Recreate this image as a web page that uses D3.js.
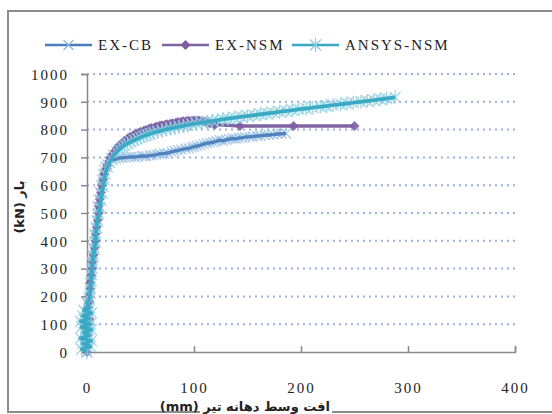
<!DOCTYPE html>
<html><head><meta charset="utf-8">
<script src="https://cdn.jsdelivr.net/npm/d3@7/dist/d3.min.js"></script>
<style>body{margin:0;background:#fff}svg{display:block}.sf{font-family:"Liberation Serif","Times New Roman",serif}</style>
</head><body>
<svg id="c" width="552" height="414"></svg>
<script>
const seriesNames = ["EX-CB", "EX-NSM", "ANSYS-NSM"];
const xTicks = [0, 100, 200, 300, 400];
const yTicks = [0,100,200,300,400,500,600,700,800,900,1000];
const exCB = [[0,0],[-2,25],[1,50],[-1,75],[2,100],[0,125],[2,150],[1,175],[2,200],[3,225],[3,250],[4,275],[4,300],[5,325],[5,350],[6,375],[7,400],[7,425],[8,450],[9,475],[10,500],[10,525],[11,550],[12,575],[13,600],[14,620],[15,640],[16,655],[17,665],[19,675],[21,683],[24,690],[27,694],[30,698],[33,699],[36,700],[39,701],[42,702],[45,701],[48,703],[52,705],[55,704],[59,707],[62,708],[65,710],[68,713],[72,714],[75,716],[79,720],[82,723],[85,725],[88,728],[92,731],[95,733],[98,736],[100,739],[103,741],[106,744],[109,748],[112,751],[115,753],[118,755],[121,758],[124,762],[127,760],[130,763],[133,766],[136,768],[139,767],[142,770],[145,771],[148,773],[152,774],[155,775],[159,777],[162,778],[166,780],[170,781],[174,782],[178,784],[182,785],[186,786]];
const exNSM = [[0,0],[1,20],[-1,40],[1,60],[-1,80],[1,100],[2,120],[0,140],[1,160],[2,180],[2,200],[3,225],[3,250],[4,275],[5,300],[5,325],[6,350],[7,375],[8,400],[8,425],[9,450],[10,475],[11,500],[11,525],[12,550],[13,575],[14,600],[15,620],[16,640],[18,658],[19,672],[21,688],[22,700],[24,712],[26,722],[28,733],[30,742],[33,752],[35,760],[38,768],[40,773],[43,779],[45,784],[48,788],[50,792],[53,796],[55,799],[58,803],[60,806],[63,808],[65,811],[68,814],[70,816],[73,817],[75,819],[78,821],[80,823],[83,825],[85,827],[88,828],[90,830],[93,831],[95,832],[98,832],[100,833],[103,833],[105,832],[108,830],[110,828],[113,825],[115,823],[118,820],[120,818],[143,813],[193,813],[250,813]];
const ansys = [[0,0],[-5,10],[3,20],[-4,30],[4,40],[-6,50],[2,60],[-3,70],[4,80],[-5,90],[3,100],[-6,110],[2,120],[-4,130],[4,140],[-3,150],[2,160],[0,175],[2,190],[3,210],[3,230],[4,255],[4,280],[5,300],[5,320],[6,345],[7,370],[8,395],[8,420],[9,445],[10,470],[11,495],[12,520],[13,545],[14,570],[15,595],[16,620],[17,640],[19,665],[21,682],[23,695],[25,708],[28,720],[30,728],[33,738],[35,744],[38,750],[41,756],[44,762],[47,767],[50,772],[53,777],[56,781],[59,785],[62,789],[66,793],[70,797],[74,801],[78,804],[82,807],[86,810],[90,813],[94,816],[98,819],[102,822],[107,825],[112,828],[117,831],[122,834],[127,837],[132,840],[138,843],[144,846],[150,849],[156,852],[162,855],[168,858],[174,861],[180,864],[186,867],[192,870],[198,873],[205,876],[211,879],[218,882],[224,885],[230,888],[237,891],[243,894],[249,897],[256,900],[262,903],[268,906],[274,909],[280,912],[288,916]];

const svg = d3.select("#c");
const x = d3.scaleLinear().domain([0,400]).range([87,515]);
const y = d3.scaleLinear().domain([0,1000]).range([352,74]);

svg.append("rect").attr("x",8).attr("y",11).attr("width",600).attr("height",401)
  .attr("fill","none").attr("stroke","#8c8c8c").attr("stroke-width",2);

svg.append("g").selectAll("line").data(yTicks.filter(d=>d>0)).join("line")
  .attr("x1",x(0)).attr("x2",x(400)).attr("y1",d=>y(d)).attr("y2",d=>y(d))
  .attr("stroke","#9bb0dc").attr("stroke-width",2).attr("stroke-dasharray","2,4");

const ya = svg.append("g").attr("transform",`translate(${x(0)},0)`)
  .call(d3.axisLeft(y).tickValues(yTicks).tickSize(6).tickPadding(12).tickFormat(d3.format("d")));
ya.attr("font-family",null).attr("font-size",null);
ya.select(".domain").attr("stroke","#888").attr("stroke-width",1.5);
ya.selectAll(".tick line").attr("stroke","#888").attr("stroke-width",1.5);
ya.selectAll("text").attr("class","sf").style("font-size","15px").attr("letter-spacing","2px").attr("fill","#222").attr("dy","0.35em");

const xa = svg.append("g").attr("transform",`translate(0,${y(0)})`)
  .call(d3.axisBottom(x).tickValues(xTicks).tickSize(-6).tickPadding(30).tickFormat(d3.format("d")));
xa.attr("font-family",null).attr("font-size",null);
xa.select(".domain").attr("stroke","#888").attr("stroke-width",1.5);
xa.selectAll(".tick line").attr("stroke","#888").attr("stroke-width",1.5);
xa.selectAll("text").attr("class","sf").style("font-size","15px").attr("letter-spacing","2px").attr("fill","#222");

const line = d3.line().x(d=>x(d[0])).y(d=>y(d[1]));

function xMark(g, col){ g.append("path").attr("d","M-5,-5L5,5M-5,5L5,-5").attr("stroke",col).attr("stroke-width",1.2).attr("fill","none"); }
function diamond(g, col){ g.append("path").attr("d","M0,-5L5,0L0,5L-5,0Z").attr("fill",col); }
function aster(g, col){ g.append("path").attr("d","M-5.5,-5.5L5.5,5.5M-5.5,5.5L5.5,-5.5M0,-7L0,7").attr("stroke",col).attr("stroke-width",1.3).attr("fill","none"); }

const defs = [
  {data: exCB, line:"#4a7ebb", mcol:"#8cb8e0", mark:xMark, op:0.75},
  {data: exNSM, line:"#8064a2", mcol:"#7e5ea3", mark:diamond, op:0.9},
  {data: ansys, line:"#3aaac4", mcol:"#8ccfe0", mark:aster, op:0.85}
];
defs.forEach((s)=>{
  const g = svg.append("g");
  g.append("path").datum(s.data).attr("d",line).attr("fill","none").attr("stroke",s.line).attr("stroke-width",3.5).attr("stroke-linejoin","round");
  g.selectAll("g.m").data(s.data).join("g").attr("class","m").attr("opacity",s.op)
    .attr("transform",d=>`translate(${x(d[0])},${y(d[1])})`).each(function(){ s.mark(d3.select(this), s.mcol); });
});
// visible blue line over its markers
svg.append("path").datum(exCB.filter(d=>d[1]>=690)).attr("d",line).attr("fill","none").attr("stroke","#4a7ebb").attr("stroke-width",3).attr("stroke-linejoin","round").attr("opacity",0.85);
svg.append("path").datum(ansys).attr("d",line).attr("fill","none").attr("stroke","#3aaac4").attr("stroke-width",3.5).attr("stroke-linejoin","round");

const lx = [45, 162, 292];
defs.forEach((s,i)=>{
  const g = svg.append("g").attr("transform",`translate(${lx[i]},45)`);
  g.append("line").attr("x1",0).attr("x2",47).attr("stroke",s.line).attr("stroke-width",2.5);
  const m = g.append("g").attr("transform","translate(23.5,0)"); s.mark(m, s.mcol);
  g.append("text").attr("x",53).attr("y",5).text(seriesNames[i])
    .attr("class","sf").style("font-size","15px").attr("letter-spacing","2px").attr("fill","#222");
});

svg.append("rect").attr("x",200).attr("y",397).attr("width",132).attr("height",17).attr("fill","#fff");
svg.append("text").attr("x",330).attr("y",411).attr("direction","rtl").attr("text-anchor","start")
  .style("font-family","DejaVu Sans, sans-serif").style("font-size","13px").attr("font-weight","bold").attr("fill","#222")
  .text("افت وسط دهانه تیر (mm)");

svg.append("text").attr("transform","translate(24,207) rotate(-90)").attr("direction","rtl").attr("text-anchor","middle")
  .style("font-family","DejaVu Sans, sans-serif").style("font-size","13px").attr("font-weight","bold").attr("fill","#222")
  .text("بار (kN)");
</script>
</body></html>
